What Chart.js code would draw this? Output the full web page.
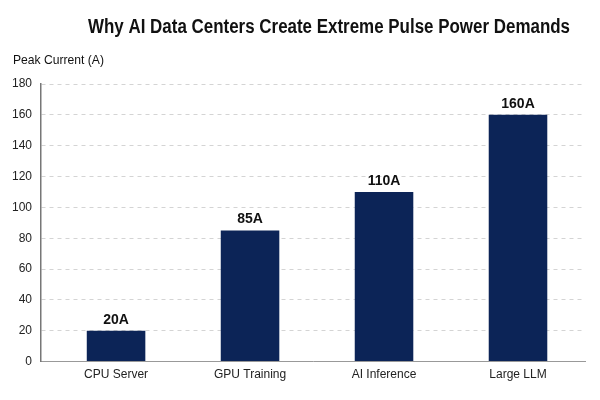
<!DOCTYPE html>
<html>
<head>
<meta charset="utf-8">
<script src="https://cdn.jsdelivr.net/npm/chart.js@4"></script>
<style>
  html, body { margin:0; padding:0; background:#fff; }
  #wrap { width:600px; height:400px; position:relative; }
</style>
</head>
<body>
<div id="wrap"><canvas id="c" width="600" height="400"></canvas></div>
<script>
// chart data
const categories = ['CPU Server', 'GPU Training', 'AI Inference', 'Large LLM'];
const peakCurrent = [20, 85, 110, 160];
const valueLabels = ['20A', '85A', '110A', '160A'];
const yTicks = [0, 20, 40, 60, 80, 100, 120, 140, 160, 180];

const FONT = '"Liberation Sans", Arial, sans-serif';

// bars sit on index positions 0..3 of a linear x scale
const points = peakCurrent.map((v, i) => ({ x: i, y: v }));

// draws the title, the axis caption and the value labels
const textPlugin = {
  id: 'textPlugin',
  afterDraw(chart){
    const c = chart.ctx;
    c.save();
    c.fillStyle = '#111';
    c.textAlign = 'center';
    c.textBaseline = 'middle';
    c.font = 'bold 20px ' + FONT;
    c.fillText('Why AI Data Centers Create Extreme Pulse Power Demands', 329, 27, 482);
    c.textAlign = 'left';
    c.font = '13px ' + FONT;
    c.fillText('Peak Current (A)', 13, 60, 91);
    const meta = chart.getDatasetMeta(0);
    c.textAlign = 'center';
    c.textBaseline = 'bottom';
    c.font = 'bold 14px ' + FONT;
    meta.data.forEach((bar, i) => c.fillText(valueLabels[i], bar.x, bar.y - 4));
    c.restore();
  }
};

new Chart(document.getElementById('c').getContext('2d'), {
  type: 'bar',
  data: {
    datasets: [{ data: points, backgroundColor: '#0c2457', barPercentage: 0.437, categoryPercentage: 1 }]
  },
  options: {
    responsive: false,
    animation: false,
    layout: { padding: { top: 84, right: 15, left: 3, bottom: 12 } },
    plugins: { legend: { display: false }, tooltip: { enabled: false } },
    scales: {
      x: {
        type: 'linear',
        min: -0.56, max: 3.5,
        offset: false,
        afterBuildTicks(axis){ axis.ticks = categories.map((c, i) => ({ value: i })); },
        grid: { display: false, drawTicks: false },
        border: { color: '#999', width: 1 },
        ticks: { color: '#222', font: { family: FONT, size: 12 }, padding: 6,
                 callback: v => categories[v] }
      },
      y: {
        min: 0, max: 180,
        afterBuildTicks(axis){ axis.ticks = yTicks.map(v => ({ value: v })); },
        grid: { color: '#d4d4d4', drawTicks: false },
        border: { color: '#777', width: 1.5, dash: [4, 4] },
        ticks: { color: '#222', font: { family: FONT, size: 12 }, padding: 9 }
      }
    }
  },
  plugins: [textPlugin]
});
</script>
</body>
</html>
